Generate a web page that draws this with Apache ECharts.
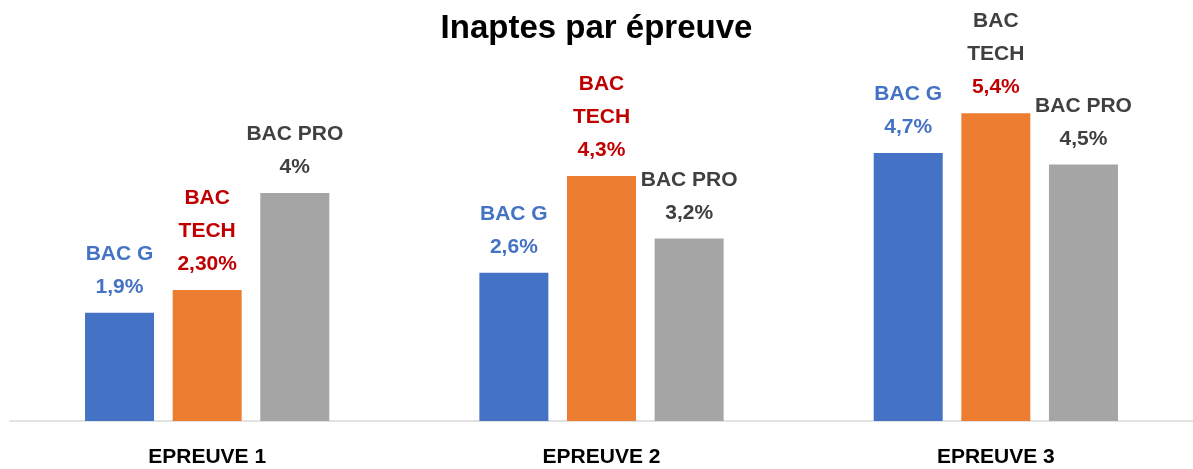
<!DOCTYPE html>
<html>
<head>
<meta charset="utf-8">
<script src="https://cdn.jsdelivr.net/npm/echarts@6/dist/echarts.min.js"></script>
<style>
html,body{margin:0;padding:0;background:#fff;}
#chart{width:1193px;height:469px;}
</style>
</head>
<body>
<div id="chart"></div>
<script>
const categories = ['EPREUVE 1', 'EPREUVE 2', 'EPREUVE 3'];
const bacG = [1.9, 2.6, 4.7];
const bacTech = [2.3, 4.3, 5.4];
const bacPro = [4.0, 3.2, 4.5];
const bacGLabels = ['1,9%', '2,6%', '4,7%'];
const bacTechLabels = ['2,30%', '4,3%', '5,4%'];
const bacProLabels = ['4%', '3,2%', '4,5%'];

const FONT = 'Liberation Sans, Arial, sans-serif';
const BLUE = '#4472C4', ORANGE = '#ED7D31', GRAY = '#A5A5A5';
const RED_TXT = '#C00000', GRAY_TXT = '#404040';

const baseLabel = {
  show: true,
  position: 'top',
  distance: 9,
  fontFamily: FONT,
  fontWeight: 'bold',
  fontSize: 21,
  lineHeight: 33,
  align: 'center'
};
function rich(color) {
  return { fontFamily: FONT, fontWeight: 'bold', fontSize: 21, lineHeight: 33, color: color, align: 'center' };
}

const chart = echarts.init(document.getElementById('chart'), null, { renderer: 'canvas' });
chart.setOption({
  animation: false,
  backgroundColor: '#fff',
  title: {
    text: 'Inaptes par épreuve',
    left: 'center',
    top: 5,
    textStyle: { fontFamily: FONT, fontWeight: 'bold', fontSize: 33, lineHeight: 38, color: '#000' }
  },
  grid: { left: 10, right: -3, top: 79, bottom: 45, containLabel: false },
  xAxis: {
    type: 'category',
    data: categories,
    axisLine: { show: true, lineStyle: { color: '#D9D9D9', width: 1.5 } },
    axisTick: { show: false },
    axisLabel: { fontFamily: FONT, fontWeight: 'bold', fontSize: 21, lineHeight: 24, color: '#000', margin: 24 }
  },
  yAxis: {
    type: 'value', min: 0, max: 6, show: false,
    splitLine: { show: false }
  },
  series: [
    {
      name: 'BAC G', type: 'bar', data: bacG, barWidth: 69, barGap: '27%',
      itemStyle: { color: BLUE },
      label: Object.assign({}, baseLabel, {
        formatter: p => '{a|BAC G}\n{a|' + bacGLabels[p.dataIndex] + '}',
        rich: { a: rich(BLUE) }
      })
    },
    {
      name: 'BAC TECH', type: 'bar', data: bacTech, barWidth: 69, barGap: '27%',
      itemStyle: { color: ORANGE },
      label: Object.assign({}, baseLabel, {
        formatter: p => {
          const k = p.dataIndex === 2 ? 'g' : 'r';
          return '{' + k + '|BAC}\n{' + k + '|TECH}\n{r|' + bacTechLabels[p.dataIndex] + '}';
        },
        rich: { r: rich(RED_TXT), g: rich(GRAY_TXT) }
      })
    },
    {
      name: 'BAC PRO', type: 'bar', data: bacPro, barWidth: 69, barGap: '27%',
      itemStyle: { color: GRAY },
      label: Object.assign({}, baseLabel, {
        formatter: p => '{a|BAC PRO}\n{a|' + bacProLabels[p.dataIndex] + '}',
        rich: { a: rich(GRAY_TXT) }
      })
    }
  ]
});
</script>
</body>
</html>
